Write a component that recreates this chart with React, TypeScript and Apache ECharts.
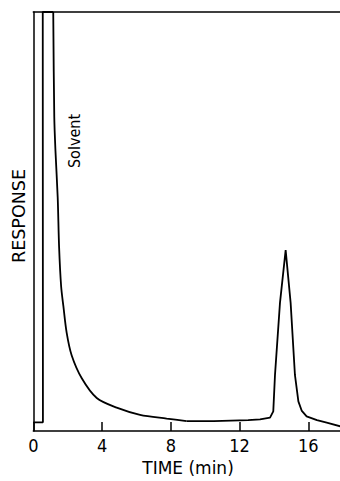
import React, { useEffect, useRef } from "react";
import * as echarts from "echarts";

// Retention time (min) and detector response (% of full scale)
const timeMin = [
  0, 0.56, 0.55, 1.16, 1.22, 1.29, 1.42, 1.5, 1.62, 1.75, 1.94, 2.23, 2.82,
  3.69, 4.85, 6.21, 7.76, 8.92, 10.5, 12.5, 13.19, 13.77, 13.96, 14.06, 14.35,
  14.68, 14.97, 15.22, 15.42, 15.61, 15.9, 16.5, 17.07, 18.0,
];
const response = [
  2.1, 2.1, 100, 100, 75, 66.8, 55.7, 44.0, 34.5, 29.8, 23.5, 18.1, 12.6, 7.9,
  5.6, 3.9, 3.0, 2.4, 2.4, 2.6, 2.8, 3.2, 4.7, 13.4, 30.6, 43.2, 30.6, 13.4,
  7.1, 4.9, 3.5, 2.6, 2.0, 1.0,
];
// index ranges: solvent front, solvent tail (smooth), baseline + sample peak
const segments = [
  { from: 0, to: 3, smooth: false },
  { from: 3, to: 17, smooth: 0.3 },
  { from: 17, to: 33, smooth: false },
];
const xTicks = [0, 4, 8, 12, 16];
const xMax = 18;
const xTitle = "TIME (min)";
const yTitle = "RESPONSE";
const peakLabel = "Solvent";

const narrow = "'Liberation Sans Narrow', 'DejaVu Sans Condensed', 'Arial Narrow', sans-serif";

export default function App() {
  const ref = useRef<HTMLDivElement>(null);
  useEffect(() => {
    if (!ref.current) return;
    const chart = echarts.init(ref.current, undefined, { renderer: "svg" });
    const points = timeMin.map((t, i) => [t, response[i]]);
    const axisLineStyle = { color: "#000", width: 1.5 };
    chart.setOption({
      animation: false,
      backgroundColor: "#fff",
      grid: {
        left: 33.3,
        top: 12,
        width: 17.19 * xMax,
        height: 424.7,
        containLabel: false,
      },
      xAxis: [
        {
          type: "value",
          position: "bottom",
          min: 0,
          max: xMax,
          interval: xTicks[1] - xTicks[0],
          axisLine: { show: true, onZero: false, lineStyle: axisLineStyle },
          axisTick: { show: true, inside: true, length: 9, lineStyle: axisLineStyle },
          axisLabel: {
            color: "#000",
            fontSize: 18,
            fontFamily: narrow,
            margin: 5,
            formatter: (v: number) => (xTicks.includes(v) ? String(v) : ""),
          },
          splitLine: { show: false },
          name: xTitle,
          nameLocation: "middle",
          nameGap: 25,
          nameTextStyle: { color: "#000", fontSize: 17, fontFamily: "'DejaVu Sans', sans-serif" },
        },
        {
          type: "value",
          position: "top",
          min: 0,
          max: xMax,
          axisLine: { show: true, onZero: false, lineStyle: axisLineStyle },
          axisTick: { show: false },
          axisLabel: { show: false },
          splitLine: { show: false },
        },
      ],
      yAxis: {
        type: "value",
        min: 0,
        max: 100,
        axisLine: { show: true, onZero: false, lineStyle: axisLineStyle },
        axisTick: { show: false },
        axisLabel: { show: false },
        splitLine: { show: false },
      },
      graphic: [
        {
          type: "text",
          x: 19,
          y: 216,
          rotation: Math.PI / 2,
          style: {
            text: yTitle,
            fill: "#000",
            fontSize: 17.5,
            fontFamily: "'DejaVu Sans', sans-serif",
            align: "center",
            verticalAlign: "middle",
          },
        },
        {
          type: "text",
          x: 74,
          y: 141,
          rotation: Math.PI / 2,
          style: {
            text: peakLabel,
            fill: "#000",
            fontSize: 16,
            fontFamily: narrow,
            align: "center",
            verticalAlign: "middle",
          },
        },
      ],
      series: segments.map((s) => ({
        type: "line",
        xAxisIndex: 0,
        data: points.slice(s.from, s.to + 1),
        showSymbol: false,
        symbol: "none",
        smooth: s.smooth,
        clip: true,
        lineStyle: { color: "#000", width: 1.8 },
      })),
    });
    return () => chart.dispose();
  }, []);
  return (
    <div
      style={{
        position: "fixed",
        left: 0,
        top: 0,
        width: 340,
        height: 481,
        overflow: "hidden",
      }}
    >
      <div ref={ref} style={{ width: 360, height: 481 }} />
    </div>
  );
}
